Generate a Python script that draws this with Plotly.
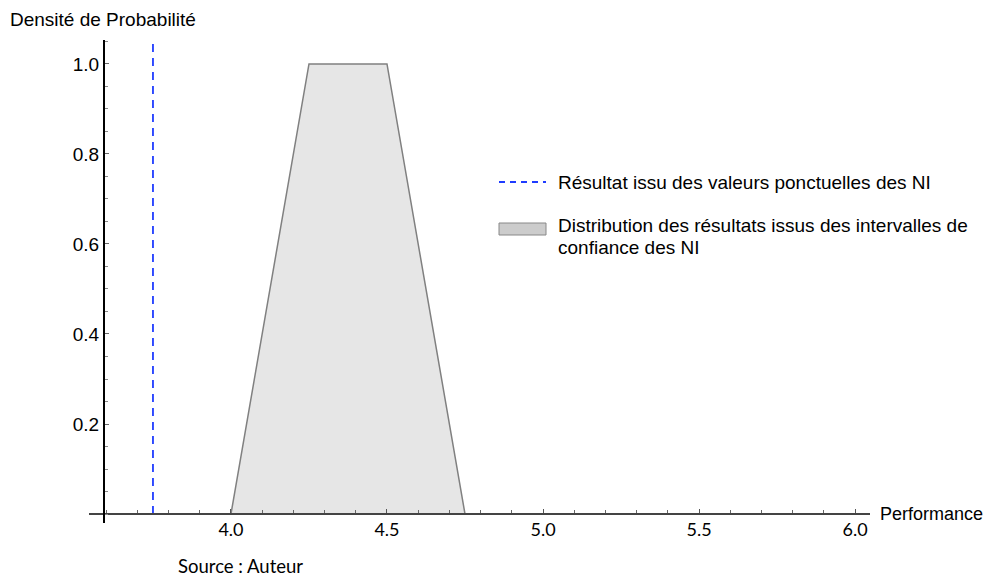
import plotly.graph_objects as go

# ---- data ----
perf_values = [4.0, 4.25, 4.5, 4.75]          # trapezoid (distribution of results)
density_values = [0.0, 1.0, 1.0, 0.0]
point_result = 3.75                             # result from point values
x_tick_vals = [4.0, 4.5, 5.0, 5.5, 6.0]
x_tick_text = ["4.0", "4.5", "5.0", "5.5", "6.0"]
y_tick_vals = [0.2, 0.4, 0.6, 0.8, 1.0]
y_tick_text = ["0.2", "0.4", "0.6", "0.8", "1.0"]
legend_line1 = "Résultat issu des valeurs ponctuelles des NI"
legend_line2 = ["Distribution des résultats issus des intervalles de", "confiance des NI"]

OFF = 8                       # page body margin
W, H = 992 - OFF, 581 - OFF
PL, PR, PT, PB = 89, 870, 40, 523   # absolute plot-area box in page pixels
ML, MR, MT, MB = PL - OFF, W - (PR - OFF), PT - OFF, H - (PB - OFF)
x_range = [3.545, 6.048]
y_range = [-0.02, 1.0533]
y_axis_at = 3.593

def px2paper(px, py):
    return (px - PL) / (PR - PL), (PB - py) / (PB - PT)

fig = go.Figure()
fig.add_trace(go.Scatter(
    x=perf_values, y=density_values, fill="toself", mode="lines",
    fillcolor="#e6e6e6", line=dict(color="#808080", width=1.5),
    showlegend=False, hoverinfo="skip"))
fig.add_trace(go.Scatter(
    x=[point_result, point_result], y=[0, y_range[1]], mode="lines",
    line=dict(color="#1f3cff", width=1.8, dash="8px,6px"),
    showlegend=False, hoverinfo="skip"))

xpos = (0 - y_range[0]) / (y_range[1] - y_range[0])
ypos = (y_axis_at - x_range[0]) / (x_range[1] - x_range[0])

fig.update_layout(
    width=W, height=H, margin=dict(l=ML, r=MR, t=MT, b=MB),
    plot_bgcolor="white", paper_bgcolor="white",
    font=dict(family="Liberation Sans, Arial", color="black"),
    xaxis=dict(range=x_range, anchor="free", position=xpos,
               showline=True, linecolor="#444", linewidth=1.5,
               showgrid=False, zeroline=False,
               tickvals=x_tick_vals, ticktext=x_tick_text,
               ticks="inside", ticklen=4, tickcolor="#555",
               tickfont=dict(family="Lato, Open Sans", size=18, color="black"),
               minor=dict(dtick=0.1, tick0=0, ticks="inside", ticklen=3, tickcolor="#666"),
               fixedrange=True),
    yaxis=dict(range=y_range, anchor="free", position=ypos,
               showline=True, linecolor="black", linewidth=2,
               showgrid=False, zeroline=False,
               tickvals=y_tick_vals, ticktext=y_tick_text,
               ticks="inside", ticklen=4, tickcolor="#666",
               tickfont=dict(family="Liberation Sans, Arial", size=19, color="black"),
               minor=dict(dtick=0.05, tick0=0, ticks="inside", ticklen=3, tickcolor="#888"),
               fixedrange=True),
)

def label(text, px, py, size, family="Liberation Sans, Arial"):
    ax, ay = px2paper(px, py)
    return dict(x=ax, y=ay, xref="paper", yref="paper", text=text,
                showarrow=False, xanchor="left", yanchor="middle", align="left",
                font=dict(size=size, family=family))

annotations = [
    label("Densité de Probabilité", 8, 19, 19),
    label("Performance", 878, 514, 18),
    label("Source : Auteur", 176, 566, 18.5, "Lato, Open Sans"),
    label(legend_line1, 556, 182, 19),
    label(legend_line2[0], 556, 225, 19),
    label(legend_line2[1], 556, 247, 19),
]
fig.update_layout(annotations=annotations)

shapes = []
x0, y0 = px2paper(499, 182)
x1, _ = px2paper(546, 182)
shapes.append(dict(type="line", xref="paper", yref="paper", x0=x0, x1=x1, y0=y0, y1=y0,
                   line=dict(color="#1f3cff", width=1.8, dash="6px,5px")))
x0, y0 = px2paper(499, 223)
x1, y1 = px2paper(546, 235)
shapes.append(dict(type="rect", xref="paper", yref="paper", x0=x0, x1=x1, y0=y0, y1=y1,
                   fillcolor="#cccccc", line=dict(color="#888888", width=1)))
fig.update_layout(shapes=shapes)

fig.write_html("out.html")
